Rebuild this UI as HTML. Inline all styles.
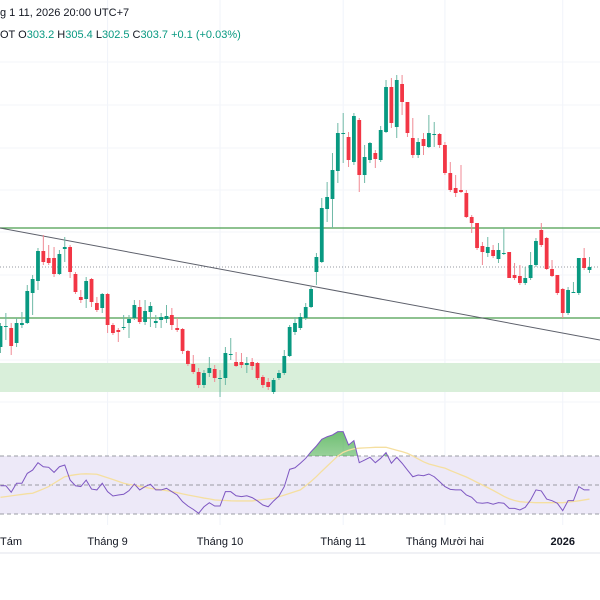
<!DOCTYPE html>
<html><head><meta charset="utf-8">
<style>
html,body{margin:0;padding:0;background:#fff;width:600px;height:600px;overflow:hidden;font-family:"Liberation Sans",sans-serif}
svg{display:block}
</style></head>
<body>
<svg id="chart" width="600" height="600" viewBox="0 0 600 600" xmlns="http://www.w3.org/2000/svg">
  <rect x="0" y="0" width="600" height="600" fill="#ffffff"/>
  <g id="grid"></g>
  <rect id="zone" fill="#d9efda"/>
  <line id="lvlHi" stroke="#4a9e4e" stroke-width="1.3"/>
  <line id="lvlLo" stroke="#4a9e4e" stroke-width="1.3"/>
  <line id="lastLine" stroke="#9598a1" stroke-width="1" stroke-dasharray="1,2"/>
  <line id="trend" stroke="#5d606b" stroke-width="1"/>
  <g id="candles"></g>
  <g id="rsiPane"></g>
  <g id="xAxis"></g>
  <text x="0" y="16" font-size="11" fill="#131722">g 1 11, 2026 20:00 UTC+7</text>
  <text x="0" y="38" font-size="11" fill="#131722">OT  O<tspan fill="#089981">303.2</tspan>  H<tspan fill="#089981">305.4</tspan>  L<tspan fill="#089981">302.5</tspan>  C<tspan fill="#089981">303.7</tspan>  <tspan fill="#089981">+0.1 (+0.03%)</tspan></text>
</svg>
<script>
const opens=[295.7,297.7,297.6,296.1,297.9,298.1,301.1,302.3,305.3,304.6,304.6,303.0,305.5,305.7,303.0,300.7,300.5,302.5,300.1,299.6,301.0,297.9,297.4,297.6,298.1,298.6,299.7,298.2,299.2,298.1,298.4,298.5,298.9,297.6,297.5,295.3,294.0,293.2,291.9,293.1,293.5,292.6,292.6,294.9,294.2,294.2,293.9,294.2,294.1,292.7,292.2,291.2,292.6,293.1,294.8,297.2,297.6,298.6,299.7,303.2,304.2,309.5,310.5,313.3,317.0,316.7,314.2,318.4,312.9,314.4,315.1,314.4,317.2,321.7,317.7,322.0,320.2,316.6,314.9,316.5,315.7,317.0,317.0,315.9,313.1,311.6,311.4,311.1,308.7,308.1,305.8,305.1,305.4,304.5,305.1,305.2,302.9,302.8,302.1,302.6,303.9,307.4,306.6,303.5,302.9,301.5,299.1,301.2,301.1,304.6,303.4];
const highs=[298.1,299.1,298.1,298.6,299.2,301.9,302.9,305.6,306.9,305.9,305.7,305.4,306.7,305.9,303.2,301.4,302.7,302.6,300.7,301.1,301.1,298.1,297.6,298.9,298.9,300.4,300.4,300.4,300.2,298.9,299.1,299.9,299.6,298.6,297.6,295.4,294.9,293.6,293.4,294.7,293.9,293.4,295.7,296.6,295.2,295.1,294.7,294.6,294.2,292.9,292.6,292.6,293.4,295.4,297.9,298.7,299.1,300.1,301.7,305.1,310.6,312.2,315.1,318.1,319.1,317.2,319.1,318.6,315.9,316.2,315.4,317.8,322.4,322.6,322.9,322.9,320.2,318.6,316.6,317.1,318.9,318.2,317.1,316.2,314.2,312.9,313.9,311.4,308.9,308.1,306.2,306.7,305.9,306.1,307.6,305.2,304.1,303.9,303.7,305.2,306.6,308.1,306.7,304.4,302.9,301.6,301.7,302.2,304.6,305.6,304.7];
const lows=[295.1,296.4,294.9,295.7,297.6,298.0,298.9,301.4,303.9,303.9,302.7,302.9,304.2,302.6,301.0,300.1,299.6,299.7,299.2,299.1,297.1,296.9,296.2,297.4,296.6,298.4,298.0,297.9,297.7,297.6,297.6,298.1,297.4,297.2,295.0,293.8,293.0,291.6,291.6,292.7,292.2,290.7,291.9,294.4,293.7,293.6,293.1,293.4,292.4,291.6,291.4,291.0,292.4,292.9,294.7,296.9,297.4,298.4,299.6,301.9,304.1,308.2,307.6,312.1,314.1,313.7,313.9,311.2,312.1,314.1,313.6,314.2,317.1,317.6,316.6,318.9,316.7,314.6,314.6,314.9,315.6,315.7,315.6,312.9,311.2,310.7,311.1,308.6,307.1,305.4,303.9,304.7,304.6,304.1,304.9,302.6,302.4,301.9,301.9,302.4,303.7,305.7,303.4,302.7,300.9,298.6,298.9,301.1,300.9,303.4,303.1];
const closes=[297.8,297.8,295.8,298.1,298.1,301.3,302.5,305.3,304.2,304.1,303.0,305.0,305.7,303.2,301.2,300.4,302.3,300.2,299.4,301.0,297.9,297.1,297.2,297.7,298.5,299.9,298.2,299.3,299.8,298.3,298.7,298.8,297.9,297.4,295.3,294.0,293.2,291.9,293.1,293.6,292.6,292.6,295.1,295.0,293.8,293.9,294.1,293.8,292.6,291.9,291.7,292.4,293.1,294.8,297.7,298.1,298.7,299.7,301.5,304.7,309.6,310.7,313.4,317.1,317.1,314.4,318.8,312.9,314.7,316.1,314.5,317.4,321.7,318.1,322.4,320.2,317.1,314.9,316.2,315.8,317.1,317.0,315.9,313.1,311.4,311.1,311.2,308.7,308.1,305.6,305.2,305.7,304.8,305.4,305.1,302.6,302.6,302.1,302.6,303.9,306.3,305.9,303.5,302.8,301.1,299.1,301.4,301.2,304.6,303.6,303.7];
const rsiValues=[49.5,49.5,45.0,51.2,51.2,58.0,60.3,65.4,62.6,62.2,58.7,62.6,63.8,53.4,49.5,48.9,53.4,47.2,46.6,51.2,45.4,42.4,43.1,43.6,46.1,50.7,46.6,48.9,50.5,46.6,46.6,47.7,45.4,43.1,38.5,35.5,33.2,30.5,35.0,37.8,35.5,35.5,45.4,45.4,42.6,42.0,42.6,41.3,39.0,36.2,35.0,39.0,42.4,48.9,60.8,61.9,65.0,68.4,73.0,76.9,81.5,83.3,84.5,86.8,86.8,77.6,80.6,65.4,67.2,69.1,65.4,68.4,72.3,65.0,69.1,65.0,60.3,55.7,56.9,56.4,57.6,55.7,52.3,48.9,47.0,46.6,46.6,43.1,41.5,37.8,37.4,37.8,36.7,37.8,37.4,33.9,33.9,32.8,34.6,39.7,46.6,45.9,40.3,39.2,37.4,32.3,39.2,39.2,48.9,46.6,46.6];
const rsiMaValues=[41.5,42,42.5,43,43.5,44,44.3,45.8,47.3,48.9,51.2,53.5,55.7,56.5,57.1,57.6,57.7,57.6,57.4,56.2,55,53.8,52.5,51.2,50.4,49.8,49.1,48.4,47.7,47.2,46.6,46.1,45.5,44.7,43.9,43.1,42.4,41.7,41,40.4,39.7,39.5,39.3,39.1,39,39,39,39,39.5,40,40.4,40.8,41.9,43,44.2,45.4,46.6,49.5,52.5,55.8,59.5,63,66.5,70,72.5,74,75,75.4,75.6,75.8,76,76,76,75,74,73,71.8,70,68,66,64.5,63.5,62.5,61.6,60,58.5,57,55.5,53.7,51.8,50,48.2,46.3,44.3,42.2,40.5,39.3,38.5,38.2,38,37.8,37.8,37.8,37.8,37.8,37.8,38.2,38.6,39.1,39.7,40.3];
const levelPrices=[307.6,298.6];
const lastPrice=303.7;
const zonePrices=[294.1,291.2];
const trendPrices=[307.6,296.4];
const rsiBands=[70,50,30];
const monthLabels=["Tám","Tháng 9","Tháng 10","Tháng 11","Tháng Mười hai","2026"];
const monthIdx=[1.5,20,41,64,83,105];

const NS="http://www.w3.org/2000/svg";
const STEP=589/110;
function xAt(i){return 0.5+i*STEP;}
function yPrice(p){return (330.4-p)*10;}
function yRsi(v){return 485-(v-50)*1.45;}
function mk(tag,attrs,parent){const e=document.createElementNS(NS,tag);for(const k in attrs)e.setAttribute(k,attrs[k]);parent.appendChild(e);return e;}

// grid
const grid=document.getElementById('grid');
monthIdx.slice(1).forEach(function(m){
  const l=mk('line',{x1:xAt(m),x2:xAt(m),y1:0,y2:525,stroke:'#f0f3fa','stroke-width':1},grid);
  
  
});
[62,105,148,190,232,275,318,360,402].forEach(function(y){
  const l=mk('line',{x1:0,x2:600,y1:y,y2:y,stroke:'#f3f5fa','stroke-width':1},grid);
  
  
});

// levels
const z=document.getElementById('zone');
z.setAttribute('x',0);z.setAttribute('width',600);
z.setAttribute('y',yPrice(zonePrices[0]));z.setAttribute('height',yPrice(zonePrices[1])-yPrice(zonePrices[0]));
['lvlHi','lvlLo'].forEach(function(id,k){const l=document.getElementById(id);l.setAttribute('x1',0);l.setAttribute('x2',600);l.setAttribute('y1',yPrice(levelPrices[k]));l.setAttribute('y2',yPrice(levelPrices[k]));});
const ll=document.getElementById('lastLine');ll.setAttribute('x1',0);ll.setAttribute('x2',600);ll.setAttribute('y1',yPrice(lastPrice));ll.setAttribute('y2',yPrice(lastPrice));
const tr=document.getElementById('trend');tr.setAttribute('x1',0);tr.setAttribute('y1',yPrice(trendPrices[0]));tr.setAttribute('x2',600);tr.setAttribute('y2',yPrice(trendPrices[1]));

// candles
const cg=document.getElementById('candles');
for(let i=0;i<opens.length;i++){
  const up=closes[i]>=opens[i];
  const col=up?'#089981':'#f23645';
  const wcol=up?'#6fb9a6':'#f08a94';
  const x=xAt(i);
  const g=mk('g',{},cg);
  
  
  mk('line',{x1:x,x2:x,y1:yPrice(highs[i]),y2:yPrice(lows[i]),stroke:wcol,'stroke-width':1},g);
  const top=yPrice(Math.max(opens[i],closes[i]));
  const h=Math.max(1,yPrice(Math.min(opens[i],closes[i]))-top);
  mk('rect',{x:x-1.9,y:top,width:3.8,height:h,fill:col},g);
}

// RSI pane
const rp=document.getElementById('rsiPane');
const band=mk('rect',{x:0,y:yRsi(rsiBands[0]),width:600,height:yRsi(rsiBands[2])-yRsi(rsiBands[0]),fill:'#ede9f8'},rp);


rsiBands.forEach(function(b){
  const l=mk('line',{x1:0,x2:600,y1:yRsi(b),y2:yRsi(b),stroke:'#9a9ca5','stroke-width':1,'stroke-dasharray':'4,3'},rp);
  
  
});
const defs=mk('defs',{},rp);
const grad=mk('linearGradient',{id:'obg',x1:0,y1:0,x2:0,y2:1},defs);
mk('stop',{offset:'0','stop-color':'#4caf50','stop-opacity':'0.8'},grad);
mk('stop',{offset:'1','stop-color':'#4caf50','stop-opacity':'0.05'},grad);
const cp=mk('clipPath',{id:'obclip'},defs);
mk('rect',{x:0,y:0,width:600,height:yRsi(70)},cp);
let dA='M'+xAt(0)+','+yRsi(70);
rsiValues.forEach(function(v,i){dA+=' L'+xAt(i)+','+yRsi(v);});
dA+=' L'+xAt(rsiValues.length-1)+','+yRsi(70)+' Z';
const ob=mk('path',{d:dA,fill:'url(#obg)','clip-path':'url(#obclip)'},rp);


const maP=mk('polyline',{points:rsiMaValues.map(function(v,i){return xAt(i)+','+yRsi(v);}).join(' '),fill:'none',stroke:'#f5dfa0','stroke-width':1.3},rp);


const rl=mk('polyline',{points:rsiValues.map(function(v,i){return xAt(i)+','+yRsi(v);}).join(' '),fill:'none',stroke:'#7e57c2','stroke-width':1},rp);



// x axis
const xa=document.getElementById('xAxis');
monthLabels.forEach(function(t,k){
  const tx=mk('text',{x:k===0?0:xAt(monthIdx[k]),y:545,'font-size':11,fill:'#131722','text-anchor':k===0?'start':'middle','font-weight':t==='2026'?'bold':'normal'},xa);
  tx.textContent=t;
  
  
});
const sep=mk('line',{x1:0,x2:600,y1:553,y2:553,stroke:'#e0e3eb','stroke-width':1},xa);


</script>
</body></html>
